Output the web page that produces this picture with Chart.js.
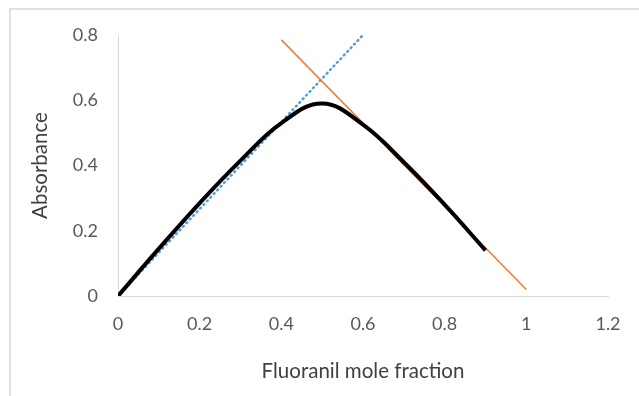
<!DOCTYPE html>
<html>
<head>
<meta charset="utf-8">
<script src="https://cdn.jsdelivr.net/npm/chart.js@4"></script>
<style>
    html, body { margin: 0; padding: 0; background: #fff; }
    #wrap { position: relative; width: 639px; height: 396px; }
    #frame {
        position: absolute; left: 9px; top: 8px; right: 0; bottom: 0;
        border-top: 2px solid #e0e0e0; border-left: 2px solid #e0e0e0;
        pointer-events: none;
    }
</style>
</head>
<body>
<div id="wrap">
    <canvas id="jobChart" width="639" height="396"></canvas>
    <div id="frame"></div>
</div>
<script>
// Job plot: measured curve and the two tangent lines
const moleFraction = [0, 0.1, 0.2, 0.3, 0.4, 0.5, 0.6, 0.7, 0.8, 0.9];
const absorbance = [0, 0.145, 0.285, 0.415, 0.53, 0.59, 0.525, 0.41, 0.28, 0.14];

const risingX = [0, 0.6];
const risingY = [0, 0.8];

const fallingX = [0.4, 1.0];
const fallingY = [0.785, 0.02];

const xTicks = [0, 0.2, 0.4, 0.6, 0.8, 1, 1.2];
const yTicks = [0, 0.2, 0.4, 0.6, 0.8];

function toPoints(xs, ys)
{
    return xs.map((x, i) => ({ x: x, y: ys[i] }));
}

const textColor = '#595959';
const fontFamily = 'Lato, "Open Sans", sans-serif';

new Chart(document.getElementById('jobChart'), {
    type: 'scatter',
    data: {
        datasets: [
            {
                label: 'Absorbance',
                data: toPoints(moleFraction, absorbance),
                showLine: true,
                borderColor: '#000000',
                borderWidth: 4,
                tension: 0.4,
                pointRadius: 0
            },
            {
                label: 'Falling',
                data: toPoints(fallingX, fallingY),
                showLine: true,
                borderColor: '#ED7D31',
                borderWidth: 1.5,
                pointRadius: 0
            },
            {
                label: 'Rising',
                data: toPoints(risingX, risingY),
                showLine: true,
                borderColor: '#5B9BD5',
                borderWidth: 2.5,
                borderDash: [1, 4],
                borderCapStyle: 'round',
                pointRadius: 0
            }
        ]
    },
    options: {
        responsive: false,
        animation: false,
        layout: { padding: { top: 35, right: 31, left: 0, bottom: 0 } },
        plugins: {
            legend: { display: false },
            tooltip: { enabled: false }
        },
        scales: {
            x: {
                type: 'linear',
                min: 0,
                max: 1.2,
                afterFit: s => { s.height = 100; },
                afterBuildTicks: s => { s.ticks = xTicks.map(v => ({ value: v })); },
                grid: { display: false, drawTicks: false },
                border: { display: true, color: '#d9d9d9', width: 1 },
                ticks: {
                    color: textColor,
                    padding: 17,
                    font: { family: fontFamily, size: 18 },
                    callback: v => String(v)
                },
                title: {
                    display: true,
                    text: 'Fluoranil mole fraction',
                    color: '#404040',
                    font: { family: fontFamily, size: 20.5 },
                    padding: { top: 0, bottom: 12 }
                }
            },
            y: {
                type: 'linear',
                min: 0,
                max: 0.8,
                afterFit: s => { s.width = 118; },
                afterBuildTicks: s => { s.ticks = yTicks.map(v => ({ value: v })); },
                grid: { display: false, drawTicks: false },
                border: { display: true, color: '#d9d9d9', width: 1 },
                ticks: {
                    color: textColor,
                    padding: 20,
                    font: { family: fontFamily, size: 18 },
                    callback: v => String(v)
                },
                title: {
                    display: true,
                    text: 'Absorbance',
                    color: '#404040',
                    font: { family: fontFamily, size: 20.5 },
                    padding: { top: 28, bottom: 0 }
                }
            }
        }
    }
});
</script>
</body>
</html>
